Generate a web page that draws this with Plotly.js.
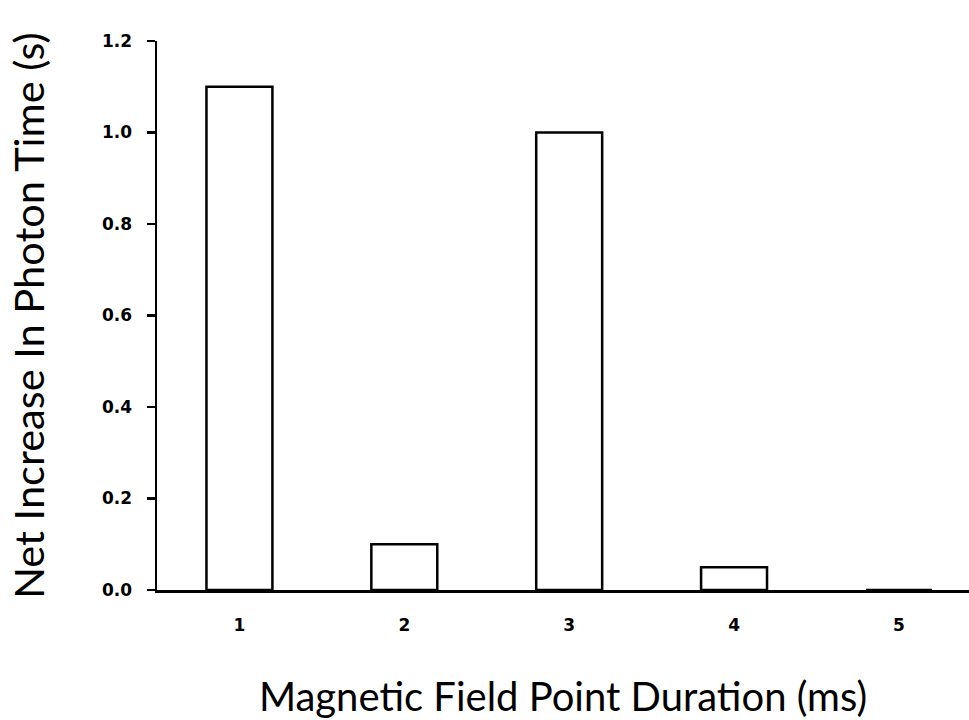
<!DOCTYPE html>
<html>
<head>
<meta charset="utf-8">
<script src="https://cdn.plot.ly/plotly-3.0.1.min.js"></script>
<style>html,body{margin:0;padding:0;background:#fff;}#chart{width:969px;height:720px;}</style>
</head>
<body>
<div id="chart"></div>
<script>
const categories = ["1", "2", "3", "4", "5"];
const values = [1.1, 0.1, 1.0, 0.05, 0];
const yTickVals = [0, 0.2, 0.4, 0.6, 0.8, 1.0, 1.2];
const yTickText = ["0.0", "0.2", "0.4", "0.6", "0.8", "1.0", "1.2"];
const xTitle = "Magnetic Field Point Duration (ms)";
const yTitle = "Net Increase In Photon Time (s)";

const trace = {
  type: "bar",
  x: categories.map(Number),
  y: values,
  width: 0.4,
  marker: {color: "#ffffff", line: {color: "#000000", width: 2.5}},
  hoverinfo: "x+y"
};

const layout = {
  width: 969, height: 720,
  margin: {l: 157, r: 0, t: 41, b: 130},
  paper_bgcolor: "#ffffff", plot_bgcolor: "#ffffff",
  showlegend: false,
  xaxis: {
    range: [0.5, 5.425],
    tickvals: categories.map(Number),
    ticktext: categories,
    showgrid: false, zeroline: false,
    showline: true, linecolor: "#000", linewidth: 2.5,
    ticks: "", ticklabelstandoff: 18,
    tickfont: {family: "DejaVu Sans, sans-serif", size: 17, color: "#000", weight: "bold"},
    title: {text: xTitle, font: {family: "Lato, sans-serif", size: 40, color: "#000"}, standoff: 54},
    automargin: false
  },
  yaxis: {
    range: [0, 1.2],
    tickvals: yTickVals,
    ticktext: yTickText,
    showgrid: false, zeroline: false,
    showline: true, linecolor: "#000", linewidth: 2.5,
    ticks: "outside", ticklen: 8, tickwidth: 2.5, tickcolor: "#000",
    ticklabelstandoff: 11,
    tickfont: {family: "DejaVu Sans, sans-serif", size: 17, color: "#000", weight: "bold"},
    title: {text: yTitle, font: {family: "Lato, sans-serif", size: 41.5, color: "#000"}, standoff: 45},
    automargin: false
  }
};

Plotly.newPlot("chart", [trace], layout, {displayModeBar: false, staticPlot: true});
</script>
</body>
</html>
